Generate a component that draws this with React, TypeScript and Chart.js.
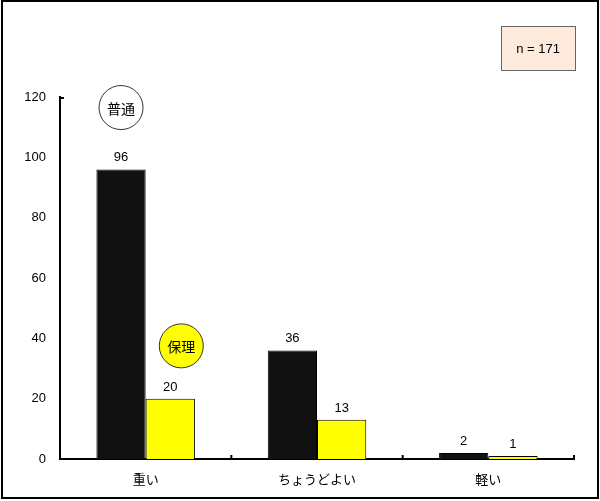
import React, { useEffect, useRef } from "react";
import { Chart, registerables } from "chart.js";

Chart.register(...registerables);

const categories = ["重い", "ちょうどよい", "軽い"];
const seriesNames = ["普通", "保理"];
const futsuValues = [96, 36, 2];
const horiValues = [20, 13, 1];
const yTicks = [0, 20, 40, 60, 80, 100, 120];
const nLabel = "n = 171";

const FONT = "'Liberation Sans', 'Noto Sans CJK JP', sans-serif";

const overlayPlugin = {
  id: "overlay",
  beforeDraw(chart: any) {
    const ctx = chart.ctx;
    ctx.save();
    ctx.fillStyle = "#ffffff";
    ctx.fillRect(0, 0, chart.width, chart.height);
    ctx.restore();
  },
  afterDraw(chart: any) {
    const ctx = chart.ctx;
    const x = chart.scales.x;
    const y = chart.scales.y;
    ctx.save();
    ctx.strokeStyle = "#000";
    ctx.lineWidth = 2;
    for (let i = 1; i <= categories.length; i++) {
      const px = x.left + ((x.right - x.left) * i) / categories.length;
      ctx.beginPath();
      ctx.moveTo(px, y.bottom);
      ctx.lineTo(px, y.bottom - 4);
      ctx.stroke();
    }
    ctx.beginPath();
    ctx.moveTo(x.left, y.top + 1);
    ctx.lineTo(x.left + 4, y.top + 1);
    ctx.stroke();

    ctx.fillStyle = "#000";
    ctx.font = `13px ${FONT}`;
    ctx.textAlign = "center";
    ctx.textBaseline = "bottom";
    chart.data.datasets.forEach((ds: any, di: number) => {
      const meta = chart.getDatasetMeta(di);
      meta.data.forEach((bar: any, i: number) => {
        ctx.fillText(String(ds.data[i]), bar.x, bar.y - 5);
      });
    });

    const b0 = chart.getDatasetMeta(0).data[0];
    const b1 = chart.getDatasetMeta(1).data[0];
    const circles = [
      { x: b0.x, y: y.getPixelForValue(116.5), fill: "#ffffff", text: seriesNames[0] },
      { x: b1.x + 11, y: y.getPixelForValue(37.5), fill: "#ffff00", text: seriesNames[1] },
    ];
    circles.forEach((c) => {
      ctx.beginPath();
      ctx.arc(c.x, c.y, 22, 0, Math.PI * 2);
      ctx.fillStyle = c.fill;
      ctx.fill();
      ctx.lineWidth = 1;
      ctx.strokeStyle = "#333";
      ctx.stroke();
      ctx.fillStyle = "#000";
      ctx.font = `14px 'Noto Sans CJK JP', sans-serif`;
      ctx.textAlign = "center";
      ctx.textBaseline = "middle";
      ctx.fillText(c.text, c.x, c.y + 1);
    });

    const bx = 501, by = 26, bw = 74, bh = 44;
    ctx.fillStyle = "#fdeadd";
    ctx.fillRect(bx, by, bw, bh);
    ctx.strokeStyle = "#666";
    ctx.lineWidth = 1;
    ctx.strokeRect(bx + 0.5, by + 0.5, bw, bh);
    ctx.fillStyle = "#000";
    ctx.font = `13px ${FONT}`;
    ctx.textAlign = "center";
    ctx.textBaseline = "middle";
    ctx.fillText(nLabel, bx + bw / 2, by + bh / 2 + 1);

    ctx.strokeStyle = "#000";
    ctx.lineWidth = 2;
    ctx.strokeRect(2, 1, 596, 497);
    ctx.restore();
  },
};

export default function App() {
  const ref = useRef<HTMLCanvasElement>(null);
  useEffect(() => {
    document.body.style.margin = "0";
    const chart = new Chart(ref.current as HTMLCanvasElement, {
      type: "bar",
      data: {
        labels: categories,
        datasets: [
          {
            label: seriesNames[0],
            data: futsuValues,
            backgroundColor: "#111111",
            borderColor: "#000",
            borderWidth: 1,
            categoryPercentage: 0.575,
            barPercentage: 1,
          },
          {
            label: seriesNames[1],
            data: horiValues,
            backgroundColor: "#ffff00",
            borderColor: "#000",
            borderWidth: 1,
            categoryPercentage: 0.575,
            barPercentage: 1,
          },
        ],
      },
      options: {
        responsive: false,
        animation: false,
        layout: { padding: { left: 0, top: 97, right: 26, bottom: 0 } },
        plugins: {
          legend: { display: false },
          tooltip: { enabled: false },
        },
        scales: {
          x: {
            grid: { display: false, drawTicks: false },
            border: { display: true, color: "#000", width: 2 },
            ticks: { color: "#000", font: { size: 13, family: FONT }, padding: 14 },
            afterFit: (s: any) => {
              s.height = 42;
            },
          },
          y: {
            min: 0,
            max: 120,
            grid: { display: false, drawTicks: false },
            border: { display: true, color: "#000", width: 2 },
            afterBuildTicks: (s: any) => {
              s.ticks = yTicks.map((v) => ({ value: v }));
            },
            ticks: { color: "#000", font: { size: 13, family: FONT }, padding: 14 },
            afterFit: (s: any) => {
              s.width = 60;
            },
          },
        },
      },
      plugins: [overlayPlugin],
    });
    return () => chart.destroy();
  }, []);
  return <canvas ref={ref} width={600} height={501} style={{ display: "block" }} />;
}
